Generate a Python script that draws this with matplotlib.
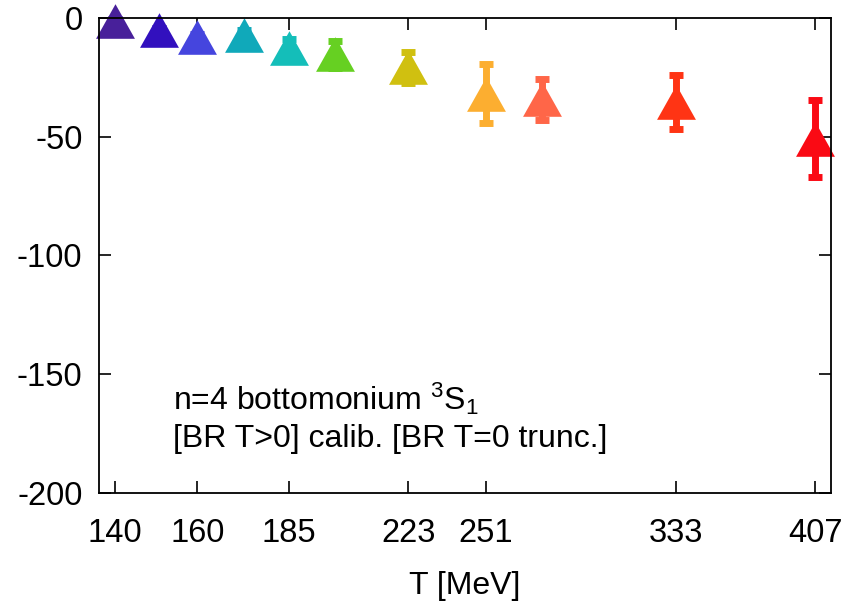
import numpy as np
import matplotlib
matplotlib.use("Agg")
import matplotlib.pyplot as plt
from matplotlib.path import Path

plt.rcParams['font.family'] = ['Liberation Sans', 'DejaVu Sans']
plt.rcParams['mathtext.fontset'] = 'custom'
plt.rcParams['mathtext.rm'] = 'Liberation Sans'
plt.rcParams['axes.unicode_minus'] = False

# temperatures [MeV] and mass shifts with errors
temps = [140, 150.5, 160, 172.5, 185, 199, 223, 251, 273, 333, 407]
shift = [-1.2, -5.1, -7.8, -7.3, -12.4, -15.3, -20.8, -31.8, -34.2, -35.3, -50.8]
err = [1.0, 1.0, 1.2, 2.4, 3.5, 5.8, 6.7, 12.4, 8.6, 11.3, 16.3]
colors = ["#48209A", "#3210BE", "#4545DE", "#10A9BA", "#14BEB9", "#66D022",
          "#D0C010", "#FCAE30", "#FF6648", "#FF3414", "#FA0A14"]

xticks = [140, 160, 185, 223, 251, 333, 407]
yticks = [0, -50, -100, -150, -200]

# slightly squat triangle
tri = Path([(0, 0.89), (-1, -0.89), (1, -0.89), (0, 0.89)],
           [Path.MOVETO, Path.LINETO, Path.LINETO, Path.CLOSEPOLY])

p = 0.13
fig = plt.figure(figsize=(8.54, 6.04), dpi=100)
ax = fig.add_axes([0.116, 0.184, 0.857, 0.786])
ax.set_xscale('function', functions=(lambda t: np.power(np.clip(t, 1e-9, None), p),
                                     lambda u: np.power(np.clip(u, 1e-9, None), 1 / p)))

for t, s, e, c in zip(temps, shift, err, colors):
    eb = ax.errorbar(t, s, yerr=e, fmt='none', ecolor=c, elinewidth=5,
                     capsize=5, capthick=5, zorder=2)
    for art in eb.lines[1]:
        art.set_clip_on(False)
    for coll in eb.lines[2]:
        coll.set_clip_on(False)
    ax.plot(t, s, linestyle='none', marker=tri, markersize=28, color=c,
            markeredgewidth=0, zorder=2, clip_on=False)

ax.set_xlim(136.4, 416.3)
ax.set_ylim(-200, 0)
ax.set_xticks(xticks)
ax.set_xticklabels([str(v) for v in xticks])
ax.minorticks_off()
ax.set_yticks(yticks)

ax.tick_params(direction='in', length=8.5, width=1.2, labelsize=23.5,
               top=True, right=True)
ax.tick_params(axis='x', pad=18)
ax.tick_params(axis='y', pad=12)
for sp in ax.spines.values():
    sp.set_linewidth(1.3)
    sp.set_zorder(5)

ax.set_xlabel("T [MeV]", fontsize=23, labelpad=16)

ax.text(0.101, 0.175, r"n=4 bottomonium $\mathregular{^3}$S$\mathregular{_1}$",
        transform=ax.transAxes, fontsize=23, va='baseline', ha='left')
ax.text(0.101, 0.097, "[BR T>0] calib. [BR T=0 trunc.]",
        transform=ax.transAxes, fontsize=23, va='baseline', ha='left')

fig.savefig("out.png", dpi=100)
